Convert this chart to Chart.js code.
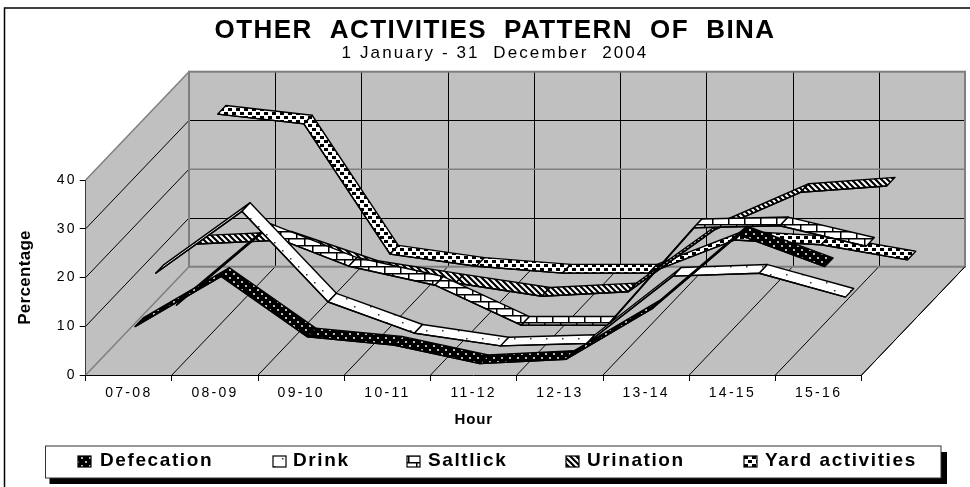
<!DOCTYPE html>
<html>
<head>
<meta charset="utf-8">
<style>html,body{margin:0;padding:0;background:#fff}canvas{display:block}</style>
<script src="https://cdn.jsdelivr.net/npm/chart.js@4/dist/chart.umd.min.js"></script>
</head>
<body>
<canvas id="c" width="970" height="487"></canvas>
<script>
const hours = ['07-08','08-09','09-10','10-11','11-12','12-13','13-14','14-15','15-16'];
const defecation = [8.6,18.9,6.5,4.8,1,1.9,12.3,27.4,20.9];
const drink = [15.1,27.8,9.2,2.8,0.2,0.7,14.5,15.1,10.2];
const saltlick = [4.1,19,12.1,8.2,0,0,20,20.4,16.2];
const urination = [12.2,13,7,4.2,1.5,2.4,15.1,22.8,24.1];
const yard = [34.4,32.4,5.7,3.2,1.8,1.8,8.6,7.6,4.5];
const seriesNames = ['Defecation','Drink','Saltlick','Urination','Yard activities'];
const seriesValues = [defecation,drink,saltlick,urination,yard];
const yTicks = {min:0,max:40,stepSize:10};

// oblique projection of the chart's depth axis
const DEPTH_X = 103.3, DEPTH_Y = 108.3;
const slots = seriesNames.length;
const FRONT_GAP = 0.3, RIBBON = 0.4;

function tile(w,h,paint){
  const c=document.createElement('canvas');c.width=w;c.height=h;
  const g=c.getContext('2d');paint(g);
  return g.createPattern(c,'repeat');
}
const ctxMain=document.getElementById('c').getContext('2d');
const patterns=[
  tile(8,8,g=>{g.fillStyle='#000';g.fillRect(0,0,8,8);g.fillStyle='#bbb';g.fillRect(1,1,2,2);g.fillRect(5,5,2,2);}),
  tile(16,16,g=>{g.fillStyle='#fff';g.fillRect(0,0,16,16);g.fillStyle='#333';g.fillRect(2,2,1.5,1.5);g.fillRect(10,10,1.5,1.5);}),
  tile(16,14,g=>{g.fillStyle='#fff';g.fillRect(0,0,16,14);g.fillStyle='#000';g.fillRect(0,0,16,1.5);g.fillRect(0,7,16,1.5);g.fillRect(0,0,1.5,7);g.fillRect(8,7,1.5,7);}),
  tile(6,6,g=>{g.fillStyle='#fff';g.fillRect(0,0,6,6);g.strokeStyle='#000';g.lineWidth=2.2;g.beginPath();
    for(const o of [-6,0,6]){g.moveTo(o-1,-1);g.lineTo(o+7,7);}g.stroke();}),
  tile(8,8,g=>{g.fillStyle='#fff';g.fillRect(0,0,8,8);g.fillStyle='#000';g.fillRect(0,0,4,3);g.fillRect(4,4,4,3);})
];

const wallsPlugin={
  id:'walls',
  beforeDatasetsDraw(chart){
    const {ctx,scales:{x,y}}=chart;
    const xL=x.left,xR=x.right,y0=y.getPixelForValue(yTicks.min),yT=y.getPixelForValue(yTicks.max);
    const dx=DEPTH_X,dy=DEPTH_Y;
    const crisp=v=>Math.round(v)+0.5;
    ctx.save();
    ctx.fillStyle='#c0c0c0';
    ctx.beginPath();ctx.moveTo(xL,y0);ctx.lineTo(xL,yT);ctx.lineTo(xL+dx,yT-dy);ctx.lineTo(xR+dx,yT-dy);
    ctx.lineTo(xR+dx,y0-dy);ctx.lineTo(xR,y0);ctx.closePath();ctx.fill();
    // grid on the floor and back wall
    const w=(xR-xL)/hours.length;
    ctx.lineWidth=1;ctx.strokeStyle='#000';
    for(let i=1;i<=hours.length;i++){
      const px=xL+i*w;
      ctx.beginPath();ctx.moveTo(px,y0);ctx.lineTo(px+dx,y0-dy);ctx.stroke();
      if(i<hours.length){ctx.beginPath();ctx.moveTo(crisp(px+dx),y0-dy);ctx.lineTo(crisp(px+dx),yT-dy);ctx.stroke();}
    }
    for(let v=yTicks.stepSize;v<yTicks.max;v+=yTicks.stepSize){
      const py=y.getPixelForValue(v);
      ctx.beginPath();ctx.moveTo(xL,py);ctx.lineTo(xL+dx,py-dy);ctx.stroke();
      ctx.beginPath();ctx.moveTo(xL+dx,crisp(py-dy));ctx.lineTo(xR+dx,crisp(py-dy));ctx.stroke();
    }
    // wall edges
    ctx.strokeStyle='#7f7f7f';ctx.lineWidth=2;
    ctx.strokeRect(xL+dx,yT-dy,xR-xL,y0-yT);
    ctx.lineWidth=1.5;
    ctx.beginPath();ctx.moveTo(xL,y0);ctx.lineTo(xL+dx,y0-dy);ctx.stroke();
    ctx.beginPath();ctx.moveTo(xL,yT);ctx.lineTo(xL+dx,yT-dy);ctx.stroke();
    ctx.beginPath();ctx.moveTo(xL+dx,y.getPixelForValue(20)-dy);ctx.lineTo(xR+dx,y.getPixelForValue(20)-dy);ctx.stroke();
    // floor outer edge
    ctx.strokeStyle='#000';ctx.lineWidth=1;
    ctx.beginPath();ctx.moveTo(xR,y0);ctx.lineTo(xR+dx,y0-dy);ctx.stroke();
    ctx.restore();
  }
};

const ribbonPlugin={
  id:'ribbons',
  afterDatasetsUpdate(chart){
    chart.data.datasets.forEach((d,i)=>{
      const f=(i+FRONT_GAP)/slots;
      chart.getDatasetMeta(i).data.forEach(p=>{p.x+=f*DEPTH_X;p.y-=f*DEPTH_Y;});
    });
  },
  beforeDatasetDraw(chart,args){
    const {ctx}=chart,pts=args.meta.data,i=args.index;
    const bx=RIBBON/slots*DEPTH_X,by=RIBBON/slots*DEPTH_Y;
    ctx.save();
    ctx.lineJoin='round';ctx.lineWidth=1.4;ctx.strokeStyle='#000';ctx.fillStyle=patterns[i];
    for(let k=0;k<pts.length-1;k++){
      const a=pts[k],b=pts[k+1];
      ctx.beginPath();ctx.moveTo(a.x,a.y);ctx.lineTo(b.x,b.y);ctx.lineTo(b.x+bx,b.y-by);ctx.lineTo(a.x+bx,a.y-by);ctx.closePath();
      ctx.fill();ctx.stroke();
    }
    ctx.restore();
  }
};

function withSpacing(chart,obj,method,px){
  const orig=obj[method];
  obj[method]=function(...a){const c=chart.ctx;c.save();c.letterSpacing=px+'px';orig.apply(this,a);c.restore();};
}
const framePlugin={
  id:'frame',
  beforeDraw(chart){
    const c=chart.ctx;c.save();c.strokeStyle='#000';c.lineWidth=1.5;
    c.beginPath();c.moveTo(4.5,487);c.lineTo(4.5,8);c.lineTo(970,8);c.stroke();c.restore();
  },
  beforeLayout(chart){
    chart.boxes.forEach(b=>{
      if(b._sp)return;
      if(b.id==='x'){b._sp=true;withSpacing(chart,b,'drawLabels',2.3);withSpacing(chart,b,'drawTitle',0.9);b.draw=b.draw.bind(b);}
      else if(b.id==='y'){b._sp=true;withSpacing(chart,b,'drawLabels',2.2);withSpacing(chart,b,'drawTitle',0.3);b.draw=b.draw.bind(b);}
      else if(b.options&&b.options.text===titleText){b._sp=true;withSpacing(chart,b,'draw',1.4);}
      else if(b.options&&b.options.text===subtitleText){b._sp=true;withSpacing(chart,b,'draw',2.1);}
    });
  },
  afterDraw(chart){
    const c=chart.ctx;
    const L=45.5,T=446,R=941,B=478;
    c.save();
    c.fillStyle='#000';c.fillRect(L+4,T+6,R-L+2,B-T);
    c.fillStyle='#fff';c.fillRect(L,T,R-L,B-T);
    c.strokeStyle='#333';c.lineWidth=1;c.strokeRect(L,T,R-L,B-T);
    const swatch=[78,273,407,566,744], text=[100,293,428,587,765];
    c.font='bold 19px "Liberation Sans"';c.textBaseline='middle';c.letterSpacing='1.6px';
    seriesNames.forEach((n,i)=>{
      c.fillStyle=patterns[i];c.fillRect(swatch[i],456,13,11);
      c.strokeStyle='#000';c.lineWidth=1.2;c.strokeRect(swatch[i],456,13,11);
      c.fillStyle='#000';c.fillText(n,text[i],461);
    });
    c.restore();
  }
};

const titleText='OTHER  ACTIVITIES  PATTERN  OF  BINA';
const subtitleText='1 January - 31  December  2004';
Chart.defaults.font.family='"Liberation Sans", Arial, sans-serif';
Chart.defaults.color='#000';

new Chart(ctxMain,{
  type:'line',
  data:{
    labels:hours,
    datasets:seriesNames.map((n,i)=>({
      label:n,data:seriesValues[i],borderColor:'#000',borderWidth:1.4,pointRadius:0,tension:0,fill:false,clip:false
    }))
  },
  plugins:[framePlugin,wallsPlugin,ribbonPlugin],
  options:{
    responsive:false,animation:false,
    layout:{padding:{left:20,right:0,top:0,bottom:55}},
    plugins:{
      legend:{display:false},tooltip:{enabled:false},
      title:{display:true,text:titleText,font:{size:26,weight:'bold',lineHeight:1.1},color:'#000',padding:{top:16.7,bottom:0}},
      subtitle:{display:true,text:subtitleText,font:{size:17,weight:'normal',lineHeight:1},color:'#000',padding:{top:0,bottom:117.7}}
    },
    scales:{
      x:{
        type:'category',offset:true,
        grid:{display:true,drawOnChartArea:false,offset:true,tickLength:6,color:'#000',tickColor:'#000'},
        border:{display:true,color:'#000',width:1},
        ticks:{font:{size:14},color:'#000',padding:4,maxRotation:0,autoSkip:false},
        title:{display:true,text:'Hour',font:{size:15,weight:'bold'},color:'#000',padding:{top:0,bottom:3}},
        afterFit(s){s.height=57;}
      },
      y:{
        type:'linear',min:yTicks.min,max:yTicks.max,
        grid:{display:true,drawOnChartArea:false,tickLength:6,color:'#000',tickColor:'#000'},
        border:{display:true,color:'#000',width:1},
        ticks:{stepSize:yTicks.stepSize,font:{size:14},color:'#000',padding:3},
        title:{display:true,text:'Percentage',font:{size:17,weight:'bold',lineHeight:1},color:'#000',padding:{top:-3,bottom:0}},
        afterFit(s){s.width=65.7;}
      },
      pad:{
        type:'linear',position:'right',display:true,
        grid:{display:false},border:{display:false},ticks:{display:false},
        afterFit(s){s.width=108.3;}
      }
    }
  }
});
</script>
</body>
</html>
